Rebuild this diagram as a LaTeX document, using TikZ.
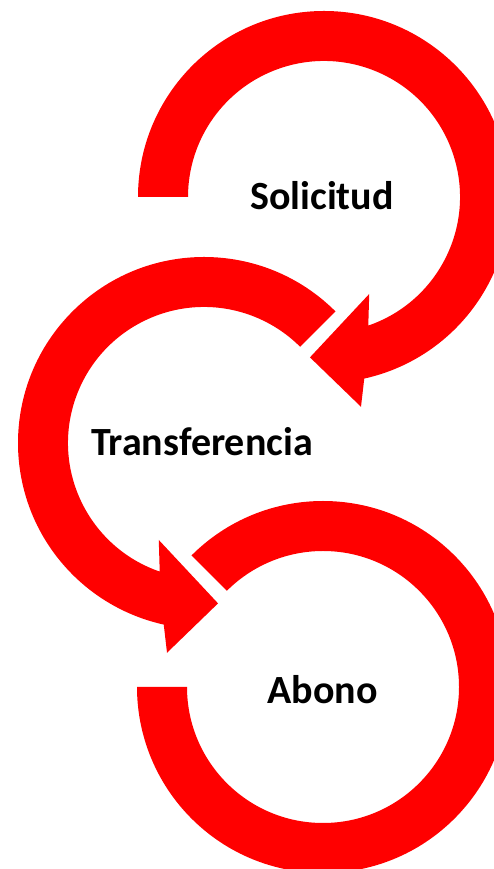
\documentclass[tikz,border=0pt]{standalone}
\usepackage{fontspec}
\setmainfont{Carlito}
\definecolor{arrowred}{RGB}{255,0,0}
\tikzset{
  ring/.style={fill=arrowred, draw=none},
  lbl/.style={font=\bfseries\fontsize{40}{48}\selectfont, text=black, inner sep=0pt, anchor=center}
}
\begin{document}
\begin{tikzpicture}[x=1pt,y=1pt]
\useasboundingbox (0,0) rectangle (494,869);
\clip (0,0) rectangle (494,869);
\coordinate (c1) at (324,672);
\coordinate (c2) at (204,426);
\coordinate (c3) at (323,182);
% circle 1 arrow (clockwise)
\fill[ring] ([shift={(180:186)}]c1) arc[start angle=180, end angle=-77.5, radius=186]
  -- ([shift={(-80:213)}]c1) -- ([shift={(-95:161)}]c1) -- ([shift={(-65:107)}]c1)
  -- ([shift={(-71:136)}]c1) arc[start angle=-71, end angle=180, radius=136] -- cycle;
% circle 2 arrow (counterclockwise)
\fill[ring] ([shift={(45:186)}]c2) arc[start angle=45, end angle=257.5, radius=186]
  -- ([shift={(260:213)}]c2) -- ([shift={(275:161)}]c2) -- ([shift={(245:107)}]c2)
  -- ([shift={(251:136)}]c2) arc[start angle=251, end angle=45, radius=136] -- cycle;
% circle 3 (no head)
\fill[ring] ([shift={(135:186)}]c3) arc[start angle=135, end angle=-180, radius=186]
  -- ([shift={(180:136)}]c3) arc[start angle=-180, end angle=135, radius=136] -- cycle;
\node[lbl] (solicitud) at (322,673) {Solicitud};
\node[lbl] (transferencia) at (202,427) {Transferencia};
\node[lbl] (abono) at (322.5,179) {Abono};
\end{tikzpicture}
\end{document}
